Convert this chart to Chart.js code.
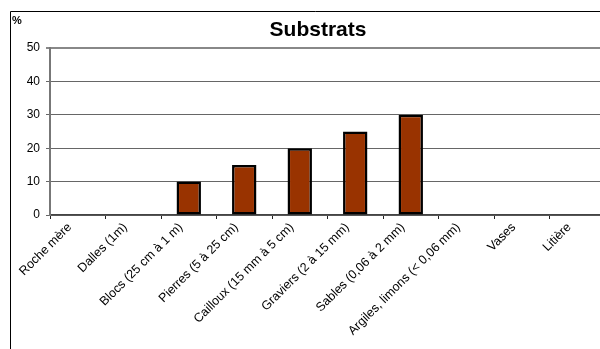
<!DOCTYPE html>
<html>
<head>
<meta charset="utf-8">
<script src="https://cdn.jsdelivr.net/npm/chart.js@4.4.0/dist/chart.umd.min.js"></script>
<style>
  html, body { margin: 0; padding: 0; background: #fff; overflow: hidden; }
  #wrap { width: 620px; height: 349px; }
</style>
</head>
<body>
<div id="wrap"><canvas id="myChart" width="620" height="349"></canvas></div>
<script>
var categories = ['Roche mère', 'Dalles (1m)', 'Blocs (25 cm à 1 m)', 'Pierres (5 à 25 cm)',
  'Cailloux (15 mm à 5 cm)', 'Graviers (2 à 15 mm)', 'Sables (0,06 à 2 mm)',
  'Argiles, limons (< 0,06 mm)', 'Vases', 'Litière'];
var percent = [0, 0, 10, 15, 20, 25, 30, 0, 0, 0];
var yTicks = [0, 10, 20, 30, 40, 50];
var chartTitle = 'Substrats';
var unitLabel = '%';

// frame, title and "%" unit label
const framePlugin = {
  id: 'frame',
  afterDraw(chart) {
    const ctx = chart.ctx;
    ctx.save();
    ctx.strokeStyle = '#000';
    ctx.lineWidth = 1;
    ctx.beginPath();
    ctx.moveTo(10.5, 349);
    ctx.lineTo(10.5, 11.5);
    ctx.lineTo(620, 11.5);
    ctx.stroke();
    ctx.fillStyle = '#000';
    ctx.textBaseline = 'middle';
    ctx.font = 'bold 11px Arial, "Liberation Sans"';
    ctx.fillText(unitLabel, 12, 21);
    ctx.font = 'bold 21px Arial, "Liberation Sans"';
    ctx.textAlign = 'center';
    ctx.fillText(chartTitle, 318, 30);
    ctx.restore();
  }
};

const ctx = document.getElementById('myChart').getContext('2d');
new Chart(ctx, {
  type: 'bar',
  data: {
    labels: categories,
    datasets: [{
      data: percent,
      backgroundColor: '#993300',
      borderColor: '#000',
      borderWidth: 2.5,
      borderSkipped: false,
      categoryPercentage: 1,
      barPercentage: 0.44
    }]
  },
  plugins: [framePlugin],
  options: {
    responsive: false,
    animation: false,
    layout: { padding: { left: 10, right: 15, top: 48, bottom: 0 } },
    plugins: {
      legend: { display: false },
      tooltip: { enabled: false },
      title: { display: false }
    },
    scales: {
      x: {
        afterFit: function(scale) { scale.height = 134; },
        border: { color: '#444', width: 1.5 },
        grid: { drawOnChartArea: false, drawTicks: true, tickLength: 4, color: '#222', offset: true },
        ticks: {
          color: '#000',
          font: { family: 'Arial, "Liberation Sans"', size: 12.5 },
          minRotation: 45,
          maxRotation: 45,
          autoSkip: false,
          padding: 1,
          labelOffset: -8
        }
      },
      y: {
        min: 0,
        max: 50,
        afterFit: function(scale) { scale.width = 40; },
        afterBuildTicks: function(scale) {
          scale.ticks = yTicks.map(function(v) { return { value: v }; });
        },
        border: { color: '#777', width: 2 },
        grid: {
          color: function(c) { return c.tick && c.tick.value === 50 ? '#888' : '#666'; },
          lineWidth: function(c) { return c.tick && c.tick.value === 50 ? 2 : 1; },
          tickLength: 4
        },
        ticks: {
          color: '#000',
          font: { family: 'Arial, "Liberation Sans"', size: 12 },
          padding: 6
        }
      }
    }
  }
});
</script>
</body>
</html>
